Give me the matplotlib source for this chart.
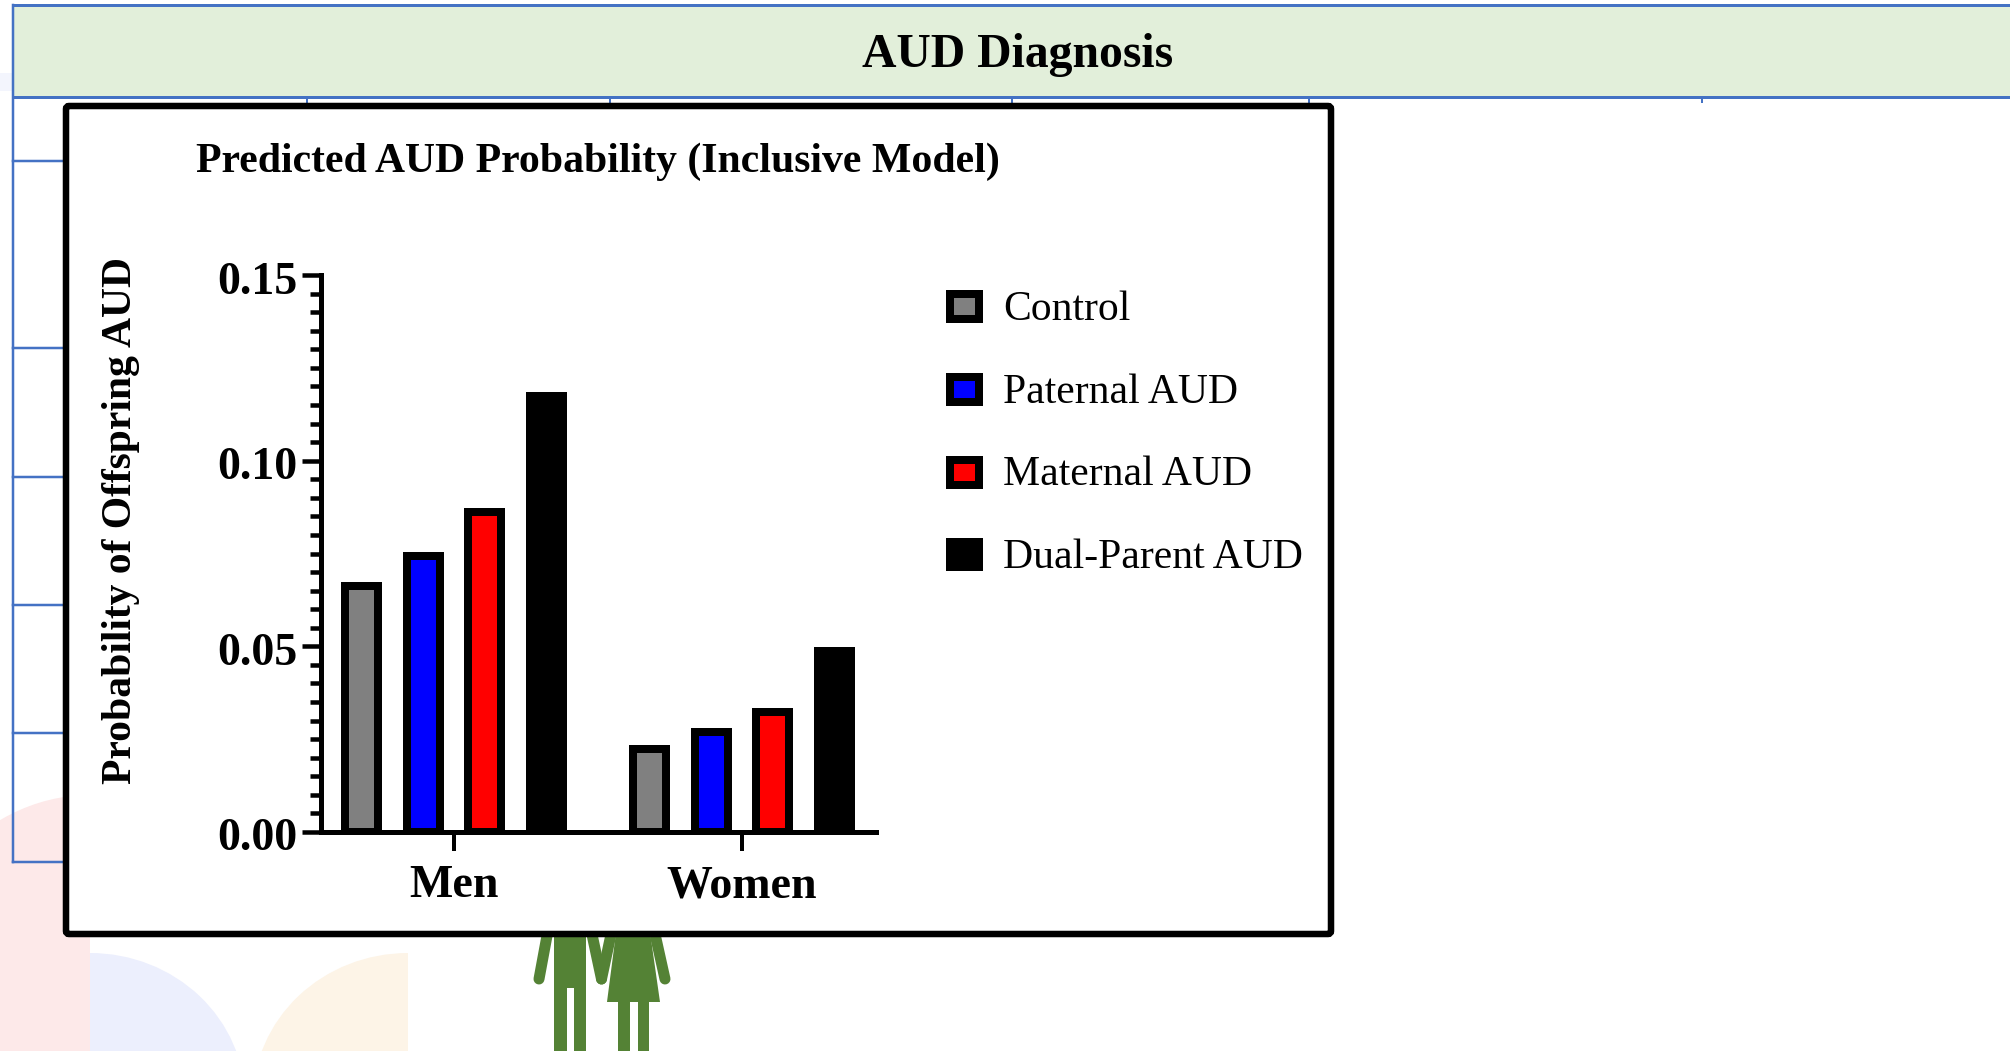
import numpy as np
import matplotlib
matplotlib.use("Agg")
import matplotlib.pyplot as plt
from matplotlib.patches import Ellipse, Polygon, Rectangle, FancyBboxPatch
from matplotlib.transforms import ScaledTranslation

# Chart values
groups = ["Men", "Women"]
series = ["Control", "Paternal AUD", "Maternal AUD", "Dual-Parent AUD"]
men_values = [0.0662, 0.0742, 0.0863, 0.1173]
women_values = [0.0224, 0.0268, 0.0323, 0.0487]
bar_colors = ["#808080", "#0000FF", "#FF0000", "#000000"]
y_ticks = [0.00, 0.05, 0.10, 0.15]

header = "AUD Diagnosis"
chart_title = "Predicted AUD Probability (Inclusive Model)"
y_title = "Probability of Offspring AUD"

W, H = 2010, 1051
BLUE = "#4472C4"
GREEN = "#548235"
plt.rcParams["font.family"] = ["Liberation Serif", "DejaVu Serif"]


def px(n):
    # pixels to points at dpi 100
    return n * 0.72


fig = plt.figure(figsize=(W / 100, H / 100), dpi=100)

# Background slide, in pixel coordinates
bg = fig.add_axes([0, 0, 1, 1])
bg.set_xlim(0, W)
bg.set_ylim(H, 0)
bg.axis("off")

# Pale arches in the corner
pink = Ellipse((90, 1050), 416, 510, fc="#FDE9E9", ec="none", zorder=1)
bg.add_patch(pink)
pink.set_clip_path(Rectangle((0, 0), 90, H, transform=bg.transData))
lilac = Ellipse((90, 1100), 310, 294, fc="#ECEFFD", ec="none", zorder=1)
bg.add_patch(lilac)
lilac.set_clip_path(Rectangle((90, 0), 400, H, transform=bg.transData))
cream = Ellipse((408, 1100), 310, 294, fc="#FDF4E7", ec="none", zorder=1)
bg.add_patch(cream)
cream.set_clip_path(Rectangle((0, 0), 408, H, transform=bg.transData))
bg.add_patch(Rectangle((0, 73), 12, 18, fc="#F3F5FD", ec="none", zorder=1))

# Table header and grid lines behind the chart
bg.add_patch(Rectangle((12.5, 5), W, 92, fc="#E2EFDA", ec="none", zorder=2))
bg.plot([12.5, W], [5, 5], color=BLUE, lw=px(3), zorder=3)
bg.plot([12.5, W], [97, 97], color=BLUE, lw=px(3), zorder=3)
bg.plot([12.5, 12.5], [5, 862], color=BLUE, lw=px(2.5), zorder=3)
for y in [161, 348, 477, 605, 733, 862]:
    bg.plot([12.5, 66], [y, y], color=BLUE, lw=px(2.5), zorder=3)
for x in [307, 610, 1012, 1309, 1702]:
    bg.plot([x, x], [97, 102], color=BLUE, lw=px(2), zorder=3)
bg.text(1018, 55, header, fontsize=34.3, fontweight="bold", ha="center", va="center", zorder=4)

# Man and woman below the chart box, holding hands
man_body = [(554, 925), (586, 925), (586, 1051), (574, 1051), (574, 988), (567, 988), (567, 1051), (554, 1051)]
woman_body = [(617, 925), (649, 925), (660, 1002), (649, 1002), (649, 1051), (638, 1051), (638, 1002),
              (630, 1002), (630, 1051), (618, 1051), (618, 1002), (607, 1002)]
arms = [[(549, 925), (539, 979)], [(590, 925), (601.5, 979)], [(613, 925), (601.5, 979)], [(653, 925), (665, 979)]]
bg.add_patch(Polygon(man_body, closed=True, fc=GREEN, ec="none", zorder=4))
bg.add_patch(Polygon(woman_body, closed=True, fc=GREEN, ec="none", zorder=4))
for (x0, y0), (x1, y1) in arms:
    bg.plot([x0, x1], [y0, y1], color=GREEN, lw=px(11), solid_capstyle="round", zorder=4)

# White chart box
bg.add_patch(FancyBboxPatch((66, 106), 1265, 828, boxstyle="round,pad=0,rounding_size=3",
                            fc="white", ec="black", lw=px(6.5), zorder=5))
bg.text(196, 162, chart_title, fontsize=30.1, fontweight="bold", ha="left", va="center", zorder=6)

# Legend
rows = [306.5, 389.5, 472, 554.5]
for name, color, y in zip(series, bar_colors, rows):
    bg.add_patch(Rectangle((950, y - 12.5), 29, 25, fc=color, ec="black", lw=px(8), zorder=6))
    bg.text(1003, y + 3, name, fontsize=30, ha="left", va="center", zorder=6)

# Bar chart
left, right, y_top, y_zero = 320.5, 876, 275, 832
ax = fig.add_axes([left / W, 1 - y_zero / H, (right - left) / W, (y_zero - y_top) / H], zorder=10)
ax.patch.set_alpha(0)

slot = 61.7
group_pos = [0, 288 / slot]
ax.set_xlim((left - 454) / slot, (right - 454) / slot)
ax.set_ylim(0, 0.15)

for center, values in zip(group_pos, [men_values, women_values]):
    offsets = np.arange(len(values)) - 1.5
    ax.bar(center + offsets, values, width=33 / slot, color=bar_colors,
           edgecolor="black", linewidth=px(8), clip_on=True)

for side in ["top", "right"]:
    ax.spines[side].set_visible(False)
for side in ["left", "bottom"]:
    ax.spines[side].set_linewidth(px(5))

ax.set_yticks(y_ticks)
ax.set_yticklabels([f"{v:.2f}" for v in y_ticks], fontsize=33, fontweight="bold")
ax.set_yticks(np.arange(0, 0.1501, 0.005), minor=True)
ax.tick_params(axis="y", which="major", length=px(19), width=px(4.5), pad=px(4))
ax.tick_params(axis="y", which="minor", length=px(11), width=px(4.5))
ax.set_xticks(group_pos)
ax.set_xticklabels(groups, fontsize=33, fontweight="bold")
ax.tick_params(axis="x", which="major", length=px(19), width=px(4), pad=px(14))

# Move the value labels down a little to sit as in the reference
shift = ScaledTranslation(0, -px(2.5) / 72, fig.dpi_scale_trans)
for label in ax.get_yticklabels():
    label.set_transform(label.get_transform() + shift)

ax.set_ylabel(y_title, fontsize=30, fontweight="bold")
ax.yaxis.set_label_coords((140 - left) / (right - left), (y_zero - 521) / (y_zero - y_top))

fig.savefig("out.png", dpi=100)
